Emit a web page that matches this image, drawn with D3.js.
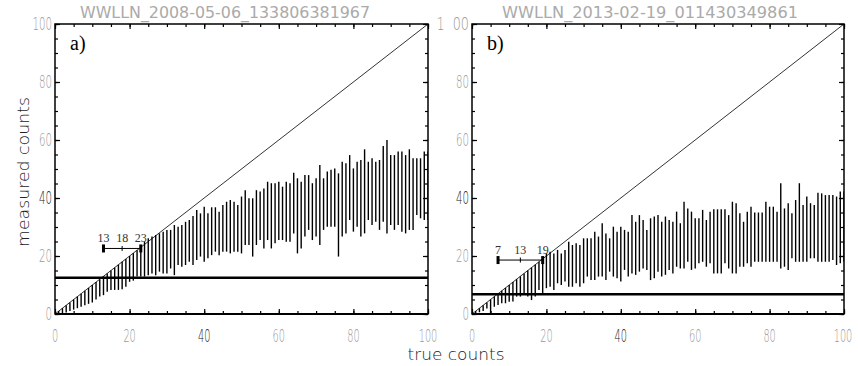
<!DOCTYPE html>
<html>
<head>
<meta charset="utf-8">
<script src="https://cdn.jsdelivr.net/npm/d3@7"></script>
<style>
body { margin: 0; background: #fff; }
</style>
</head>
<body>
<script>
// true counts on x, measured count range (min..max) per true count
const trueCounts = d3.range(1, 101)

const titleA = "WWLLN_2008-05-06_133806381967"
const titleB = "WWLLN_2013-02-19_011430349861"

const aMax = [
  1, 2, 3, 4, 5, 6, 7, 8, 9, 10,
  11, 12, 13, 14, 15, 16, 17, 18, 19, 20,
  21, 22, 23, 25.0, 26.1, 26.7, 27.2, 27.8, 28.4, 29.0,
  29.0, 30.7, 30.1, 30.7, 31.8, 32.4, 33.8, 35.9, 34.7, 37.0,
  34.7, 36.8, 36.8, 35.3, 37.6, 38.7, 39.3, 38.7, 37.6, 40.5,
  42.7, 39.9, 39.9, 42.7, 42.2, 43.3, 45.6, 45.1, 45.1, 45.6,
  43.9, 45.6, 45.1, 48.7, 46.8, 45.6, 47.9, 47.9, 45.1, 46.8,
  51.4, 46.8, 49.1, 49.7, 50.2, 48.5, 52.5, 52.0, 54.8, 50.2,
  52.5, 53.1, 56.8, 52.5, 53.7, 52.5, 53.1, 57.9, 60.0, 54.8,
  54.8, 56.0, 56.0, 54.8, 56.8, 53.7, 53.7, 53.7, 56.0, 56.0
]
const aMin = [
  0, 0.3, 0.5, 1, 1.5, 2, 2.5, 3, 3.5, 4,
  5, 6, 6.5, 7.7, 8.3, 8.3, 8.3, 8.5, 9.4, 11.1,
  11.5, 12.9, 12.9, 12.9, 13.4, 14.0, 13.4, 14.6, 14.0, 14.0,
  15.7, 13.4, 16.9, 16.3, 16.9, 18.0, 16.9, 18.6, 19.8, 18.0,
  19.2, 20.3, 21.5, 20.3, 21.5, 21.5, 20.9, 21.5, 21.5, 20.9,
  23.8, 23.8, 19.8, 23.8, 25.5, 22.6, 25.5, 22.6, 24.4, 25.5,
  25.5, 24.9, 24.9, 27.8, 20.9, 22.6, 26.7, 29.0, 25.5, 26.7,
  23.8, 29.0, 30.1, 30.1, 30.1, 19.8, 26.7, 27.8, 32.4, 28.4,
  30.1, 26.7, 27.8, 32.4, 30.7, 31.8, 29.0, 31.8, 27.8, 30.7,
  29.0, 30.7, 28.4, 27.8, 29.0, 29.0, 34.1, 33.0, 32.4, 32.4
]

const bMax = [
  1, 2, 3, 4, 5, 6, 7, 8, 9, 10,
  11, 12, 13, 14, 15, 16, 17, 18, 19, 20.9,
  21.5, 20.9, 22.1, 20.9, 22.1, 24.9, 23.8, 24.4, 23.8, 26.1,
  26.1, 26.1, 28.4, 26.7, 31.3, 27.8, 26.1, 30.1, 28.4, 30.1,
  29.0, 28.4, 34.1, 31.8, 34.1, 32.4, 29.0, 33.0, 33.6, 34.1,
  31.8, 33.6, 32.4, 31.8, 35.3, 31.3, 38.7, 36.4, 35.3, 33.0,
  33.0, 35.9, 32.4, 35.3, 36.1, 36.1, 36.1, 36.1, 34.1, 38.7,
  38.2, 34.7, 31.8, 35.3, 37.0, 35.0, 35.0, 35.0, 38.7, 37.0,
  37.0, 35.3, 45.1, 36.4, 38.2, 34.7, 39.3, 45.1, 37.6, 40.5,
  38.2, 37.6, 41.8, 41.6, 41.0, 41.0, 41.0, 40.5, 42.2, 42.2
]
const bMin = [
  0.2, 0.6, 1.0, 1.9, 0.2, 2.5, 3.1, 3.7, 3.7, 4.2,
  4.3, 6.0, 6.0, 7.1, 6.0, 4.8, 6.0, 8.3, 6.9, 8.9,
  9.4, 8.3, 10.6, 10.0, 11.2, 9.4, 9.4, 10.6, 9.4, 10.6,
  12.9, 11.7, 11.7, 12.9, 12.9, 11.7, 14.6, 12.9, 12.3, 11.2,
  15.2, 12.9, 14.0, 13.5, 14.6, 15.7, 15.2, 11.7, 12.3, 14.6,
  12.9, 13.5, 15.2, 14.0, 16.3, 15.7, 15.7, 18.0, 15.2, 15.7,
  17.5, 18.0, 16.3, 17.5, 14.0, 14.0, 14.0, 17.5, 15.7, 14.0,
  14.0, 16.3, 16.3, 17.5, 16.3, 18.0, 18.0, 18.0, 18.0, 18.0,
  18.0, 18.0, 15.7, 16.3, 15.2, 19.2, 18.0, 18.0, 18.0, 18.0,
  19.2, 19.2, 18.0, 18.0, 18.0, 18.0, 18.6, 16.9, 17.5, 18.0
]

const aThreshold = 12.5
const bThreshold = 6.8
const aWindow = [13, 18, 23]
const bWindow = [7, 13, 19]
const aWindowLevel = 22.6
const bWindowLevel = 18.6

const majorTicks = [0, 20, 40, 60, 80, 100]
const minorTicks = d3.range(0, 101, 5)

const width = 858
const height = 366

const svg = d3.select("body").append("svg")
  .attr("width", width)
  .attr("height", height)
  .attr("viewBox", [0, 0, width, height])

svg.append("rect").attr("width", width).attr("height", height).attr("fill", "#fff")

function drawPanel(opts) {
  const x = d3.scaleLinear().domain([0, 100]).range([opts.x0, opts.x1])
  const y = d3.scaleLinear().domain([0, 100]).range([314, 24])
  const g = svg.append("g")

  const clipId = "clip" + opts.name
  svg.append("clipPath").attr("id", clipId)
    .append("rect").attr("x", opts.x0).attr("y", 24)
    .attr("width", opts.x1 - opts.x0).attr("height", 290)

  const plot = g.append("g").attr("clip-path", `url(#${clipId})`)

  // y = x reference
  plot.append("line")
    .attr("x1", x(0)).attr("y1", y(0))
    .attr("x2", x(100)).attr("y2", y(100))
    .attr("stroke", "#333").attr("stroke-width", 1)

  // measured range per true count
  plot.selectAll(".bar")
    .data(trueCounts)
    .enter()
    .append("line")
    .attr("class", "bar")
    .attr("x1", d => x(d)).attr("x2", d => x(d))
    .attr("y1", (d, i) => y(opts.min[i]))
    .attr("y2", (d, i) => y(opts.max[i]))
    .attr("stroke", "#000")
    .attr("stroke-width", 1.4)

  // threshold
  plot.append("line")
    .attr("x1", x(0)).attr("x2", x(100))
    .attr("y1", y(opts.threshold)).attr("y2", y(opts.threshold))
    .attr("stroke", "#000").attr("stroke-width", 2.6)

  // window marker
  const w = opts.window
  const wy = y(opts.level)
  g.append("line")
    .attr("x1", x(w[0])).attr("x2", x(w[2]))
    .attr("y1", wy).attr("y2", wy)
    .attr("stroke", "#000").attr("stroke-width", 1)
  g.append("line")
    .attr("x1", x(w[1])).attr("x2", x(w[1]))
    .attr("y1", wy - 2.5).attr("y2", wy + 2.5)
    .attr("stroke", "#000").attr("stroke-width", 1)
  g.selectAll(".cap")
    .data([w[0], w[2]])
    .enter()
    .append("rect")
    .attr("x", d => x(d) - 1.5).attr("y", wy - 4)
    .attr("width", 3).attr("height", 8)
    .attr("fill", "#000")
  g.selectAll(".wlab")
    .data(w)
    .enter()
    .append("text")
    .attr("x", d => x(d)).attr("y", wy - 6)
    .attr("text-anchor", "middle")
    .attr("font-family", "Liberation Serif, Times New Roman, serif")
    .attr("font-size", 12)
    .attr("fill", "#333")
    .text(d => d)

  // ticks on all four sides, pointing in
  const tickStyle = sel => {
    sel.select(".domain").remove()
    sel.selectAll("line").attr("stroke", "#000").attr("stroke-width", 1.2)
  }
  const sides = [
    [d3.axisBottom, `translate(0,314)`, x],
    [d3.axisTop, `translate(0,24)`, x],
    [d3.axisLeft, `translate(${opts.x0},0)`, y],
    [d3.axisRight, `translate(${opts.x1},0)`, y]
  ]
  sides.forEach(([ax, tr, sc]) => {
    g.append("g").attr("transform", tr)
      .call(ax(sc).tickValues(minorTicks).tickSizeInner(-3).tickSizeOuter(0).tickFormat(""))
      .call(tickStyle)
    g.append("g").attr("transform", tr)
      .call(ax(sc).tickValues(majorTicks).tickSizeInner(-5).tickSizeOuter(0).tickFormat(""))
      .call(tickStyle)
  })

  // frame
  g.append("rect")
    .attr("x", opts.x0).attr("y", 24)
    .attr("width", opts.x1 - opts.x0).attr("height", 290)
    .attr("fill", "none").attr("stroke", "#000").attr("stroke-width", 1.5)
  g.append("line")
    .attr("x1", opts.x0).attr("x2", opts.x1).attr("y1", 314).attr("y2", 314)
    .attr("stroke", "#000").attr("stroke-width", 2)

  // tick labels
  const labFont = "DejaVu Sans, sans-serif"
  g.selectAll(".xlab")
    .data(majorTicks)
    .enter()
    .append("text")
    .attr("x", d => x(d) - (d === 100 && opts.name === "B" ? 1 : 0)).attr("y", 342)
    .attr("text-anchor", "middle")
    .attr("font-family", labFont).attr("font-size", 17)
    .attr("font-weight", 200)
    .attr("fill", d => d === 40 ? "#222" : "#999")
    .attr("textLength", d => String(d).length * 6.2)
    .attr("lengthAdjust", "spacingAndGlyphs")
    .text(d => d)
  g.selectAll(".ylab")
    .data(majorTicks)
    .enter()
    .append("text")
    .attr("x", opts.x0 - 3).attr("y", d => y(d) + 6)
    .attr("text-anchor", "end")
    .attr("font-family", labFont).attr("font-size", 17)
    .attr("font-weight", 200)
    .attr("fill", d => d === 40 ? "#222" : "#999")
    .attr("textLength", d => opts.yFormat(d).length * 6.5)
    .attr("lengthAdjust", "spacingAndGlyphs")
    .style("white-space", "pre")
    .text(d => opts.yFormat(d))

  // title and panel letter
  g.append("text")
    .attr("x", opts.titleX).attr("y", 18)
    .attr("text-anchor", "middle")
    .attr("font-family", labFont).attr("font-size", 15)
    .attr("fill", "#aaa")
    .attr("textLength", opts.titleW)
    .attr("lengthAdjust", "spacingAndGlyphs")
    .text(opts.title)
  g.append("text")
    .attr("x", opts.x0 + 15).attr("y", 50)
    .attr("font-family", "Liberation Serif, Times New Roman, serif")
    .attr("font-size", 20)
    .attr("fill", "#000")
    .text(opts.letter)
}

drawPanel({
  name: "A", x0: 55, x1: 428, min: aMin, max: aMax,
  threshold: aThreshold, window: aWindow, level: aWindowLevel,
  title: titleA, titleX: 225, titleW: 290, letter: "a)",
  yFormat: d => String(d)
})
drawPanel({
  name: "B", x0: 472, x1: 844, min: bMin, max: bMax,
  threshold: bThreshold, window: bWindow, level: bWindowLevel,
  title: titleB, titleX: 650, titleW: 296, letter: "b)",
  yFormat: d => d === 100 ? "1\u00a0\u00a000" : String(d)
})

// shared axis titles
svg.append("text")
  .attr("transform", "translate(29,172) rotate(-90)")
  .attr("text-anchor", "middle")
  .attr("font-family", "DejaVu Sans, sans-serif")
  .attr("font-size", 16)
  .attr("font-weight", 200)
  .attr("fill", "#222")
  .attr("textLength", 150)
  .attr("lengthAdjust", "spacingAndGlyphs")
  .text("measured counts")

svg.append("text")
  .attr("x", 456).attr("y", 360)
  .attr("text-anchor", "middle")
  .attr("font-family", "DejaVu Sans, sans-serif")
  .attr("font-size", 16)
  .attr("font-weight", 200)
  .attr("fill", "#222")
  .attr("textLength", 97)
  .attr("lengthAdjust", "spacingAndGlyphs")
  .text("true counts")
</script>
</body>
</html>
